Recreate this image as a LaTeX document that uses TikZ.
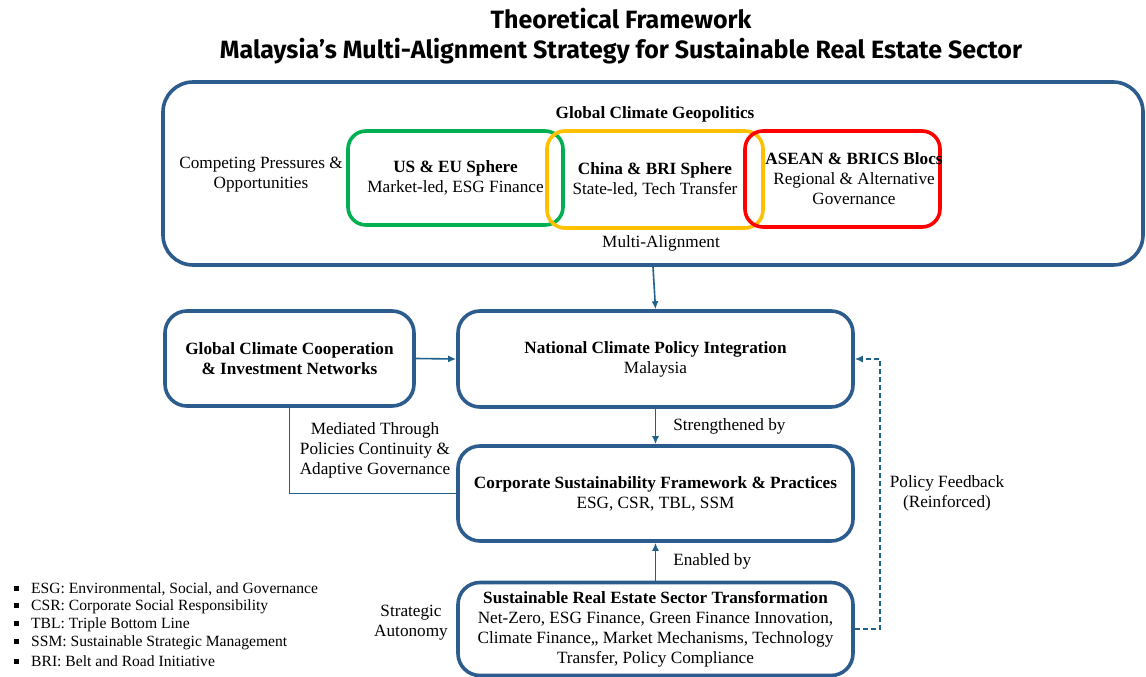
\documentclass[tikz,border=0pt]{standalone}
\usepackage{fontspec}
\setmainfont{Liberation Serif}
\newfontfamily\headfont{Fira Sans}
\usetikzlibrary{arrows.meta}

\definecolor{frameblue}{RGB}{44,92,142}
\definecolor{linkblue}{RGB}{30,98,140}
\definecolor{usgreen}{RGB}{0,176,80}
\definecolor{bricyellow}{RGB}{255,192,0}
\definecolor{blocred}{RGB}{255,0,0}

\tikzset{
  panel/.style={draw=frameblue, line width=3.6pt, rounded corners=22pt,
    minimum width=#1},
  panel/.default=395pt,
  sphere/.style={draw=#1, line width=3.6pt, rounded corners=18pt},
  flow/.style={draw=linkblue, line width=1.6pt, -{Latex[length=8pt,width=7pt]}},
  link/.style={draw=linkblue, line width=1.4pt},
  feedback/.style={draw=linkblue, line width=1.6pt, dash pattern=on 5pt off 3pt,
    -{Latex[length=8pt,width=7pt]}},
  txt/.style={align=center, font=\fontsize{17.2}{20}\selectfont, inner sep=0pt},
  legend/.style={anchor=west, font=\fontsize{15.6}{18}\selectfont, inner sep=0pt},
}
\newcommand\sq{\raisebox{2.5pt}{\rule{5pt}{5pt}}\hspace{12pt}}

\begin{document}
\begin{tikzpicture}[x=1pt, y=-1pt]
  \useasboundingbox (0,0) rectangle (1146,677);

  % title
  \node[font=\headfont\bfseries\fontsize{25}{30}\selectfont, align=center] (title) at (621,36)
    {Theoretical Framework\\Malaysia’s Multi-Alignment Strategy for Sustainable Real Estate Sector};

  % geopolitics frame
  \node[panel=980pt, minimum height=183pt, rounded corners=30pt] (geo) at (653,173.5) {};
  \node[txt] (geotitle) at (655,114) {\textbf{Global Climate Geopolitics}};
  \node[txt] (pressure) at (261,175) {Competing Pressures \&\\Opportunities};

  \node[sphere=usgreen, minimum width=215pt, minimum height=94pt] (useu) at (455.5,178) {};
  \node[sphere=bricyellow, minimum width=216pt, minimum height=97pt] (china) at (655,179.5) {};
  \node[sphere=blocred, minimum width=195pt, minimum height=96pt] (asean) at (842.5,179) {};
  \node[txt] at (useu) {\textbf{US \& EU Sphere}\\Market-led, ESG Finance};
  \node[txt] at (china) {\textbf{China \& BRI Sphere}\\State-led, Tech Transfer};
  \node[txt] at (854,179) {\textbf{ASEAN \& BRICS Blocs}\\Regional \& Alternative\\Governance};
  \node[txt] (multi) at (661,243) {Multi-Alignment};

  % main chain
  \node[panel=249pt, minimum height=95pt] (coop) at (289.5,358.5) {};
  \node[txt] at (coop) {\textbf{Global Climate Cooperation}\\\textbf{\& Investment Networks}};

  \node[panel, minimum height=96pt] (nat) at (655.5,359) {};
  \node[txt] at (nat) {\textbf{National Climate Policy Integration}\\Malaysia};

  \node[panel, minimum height=95pt] (corp) at (655.5,493.5) {};
  \node[txt] at (corp) {\textbf{Corporate Sustainability Framework \& Practices}\\ESG, CSR, TBL, SSM};

  \node[panel, minimum height=93pt] (sre) at (655.5,629) {};
  \node[txt] at (sre) {\textbf{Sustainable Real Estate Sector Transformation}\\
    Net-Zero, ESG Finance, Green Finance Innovation,\\
    Climate Finance,, Market Mechanisms, Technology\\
    Transfer, Policy Compliance};

  \draw[flow] (geo.south) -- (nat.north);
  \draw[flow] (coop.east) -- (nat.west);
  \draw[flow] (nat.south) -- node[txt, right=17pt] {Strengthened by} (corp.north);
  \draw[flow] (sre.north) -- node[txt, right=17pt] {Enabled by} (corp.south);
  \draw[link] (coop.south) |- (corp.west);
  \node[txt] (mediated) at (375,450) {Mediated Through\\Policies Continuity \&\\Adaptive Governance};
  \draw[feedback] (sre.east) -- ++(25,0) |- (nat.east);
  \node[txt] (loop) at (947,493) {Policy Feedback\\(Reinforced)};
  \node[txt] (autonomy) at (411,623) {Strategic\\Autonomy};

  % abbreviations
  \node[legend] (l1) at (14,589) {\sq ESG: Environmental, Social, and Governance};
  \node[legend] (l2) at (14,607) {\sq CSR: Corporate Social Responsibility};
  \node[legend] (l3) at (14,625) {\sq TBL: Triple Bottom Line};
  \node[legend] (l4) at (14,643) {\sq SSM: Sustainable Strategic Management};
  \node[legend] (l5) at (14,661) {\sq BRI: Belt and Road Initiative};
\end{tikzpicture}
\end{document}
